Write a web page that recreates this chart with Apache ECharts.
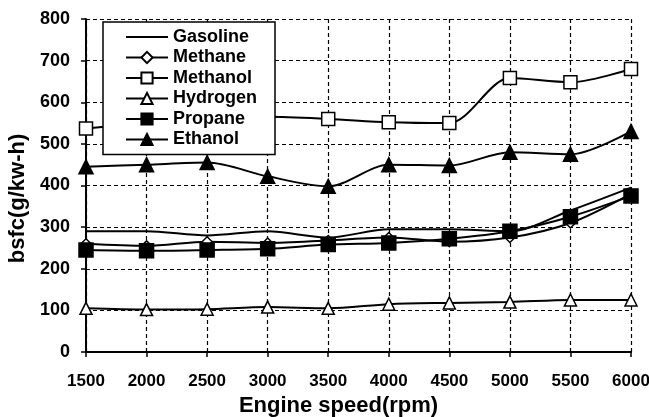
<!DOCTYPE html>
<html><head><meta charset="utf-8">
<script src="https://cdn.jsdelivr.net/npm/echarts@6/dist/echarts.min.js"></script>
<style>html,body{margin:0;padding:0;background:#fff}#c{width:649px;height:417px}</style>
</head><body><div id="c"></div>
<script>
const speeds = [1500, 2000, 2500, 3000, 3500, 4000, 4500, 5000, 5500, 6000];
const gasoline = [290, 290, 280, 290, 275, 295, 295, 290, 340, 395];
const methane  = [260, 255, 265, 262, 268, 275, 265, 275, 310, 380];
const methanol = [537, 550, 560, 565, 560, 552, 550, 658, 648, 680];
const hydrogen = [105, 102, 103, 108, 105, 115, 118, 120, 125, 125];
const propane  = [245, 243, 245, 248, 258, 262, 272, 290, 325, 375];
const ethanol  = [445, 450, 455, 422, 398, 450, 448, 480, 475, 530];
const yTicks = [0, 100, 200, 300, 400, 500, 600, 700, 800];

const FONT = '"Liberation Sans", Arial, sans-serif';
const pts = arr => speeds.map((s, i) => [s, arr[i]]);
function mk(name, data, symbol, size, filled) {
  return {
    name, type: 'line', data: pts(data), smooth: 0.3,
    symbol, symbolSize: size, showSymbol: symbol !== 'none',
    lineStyle: {color: '#000', width: 2},
    itemStyle: {color: filled ? '#000' : '#fff', borderColor: '#000', borderWidth: 1.5},
    emphasis: {disabled: true}, animation: false
  };
}
const chart = echarts.init(document.getElementById('c'));
chart.setOption({
  backgroundColor: '#fff',
  animation: false,
  grid: {left: 86, right: 18, top: 19, bottom: 65, containLabel: false, outerBoundsMode: 'none'},
  legend: {
    left: 103, top: 22, orient: 'vertical',
    backgroundColor: '#fff', borderColor: '#000', borderWidth: 1.5,
    padding: [6, 18, 6, 22], itemWidth: 42, itemHeight: 14, itemGap: 2.5,
    textStyle: {fontFamily: FONT, fontWeight: 'bold', fontSize: 18, color: '#000'},
    data: [
      {name: 'Gasoline', itemStyle: {color: 'rgba(0,0,0,0)', borderColor: 'rgba(0,0,0,0)', borderWidth: 0}},
      'Methane', 'Methanol', 'Hydrogen', 'Propane', 'Ethanol'
    ]
  },
  xAxis: {
    type: 'value', min: 1500, max: 6000, interval: 500,
    name: 'Engine speed(rpm)', nameLocation: 'middle', nameGap: 37,
    nameTextStyle: {fontFamily: FONT, fontWeight: 'bold', fontSize: 22, color: '#000',
      padding: [0, 40, 0, 0]},
    axisLine: {lineStyle: {color: '#000', width: 2}},
    axisTick: {show: true, length: 5, lineStyle: {color: '#000', width: 1.5}},
    axisLabel: {fontFamily: FONT, fontWeight: 'bold', fontSize: 17, color: '#000', margin: 21,
      formatter: v => String(v)},
    splitLine: {show: true, lineStyle: {color: '#000', width: 1.2, type: [4, 3]}}
  },
  yAxis: {
    type: 'value', min: yTicks[0], max: yTicks[yTicks.length - 1], interval: 100,
    name: 'bsfc(g/kw-h)', nameLocation: 'middle', nameGap: 54, nameRotate: 90,
    nameTextStyle: {fontFamily: FONT, fontWeight: 'bold', fontSize: 22, color: '#000',
      padding: [0, 26, 0, 0]},
    axisLine: {show: true, lineStyle: {color: '#000', width: 2}},
    axisTick: {show: true, length: 5, lineStyle: {color: '#000', width: 1.5}},
    axisLabel: {fontFamily: FONT, fontWeight: 'bold', fontSize: 18, color: '#000', margin: 16,
      formatter: v => String(v)},
    splitLine: {show: true, lineStyle: {color: '#000', width: 1.2, type: [4, 3]}}
  },
  series: [
    mk('Gasoline', gasoline, 'none', 0, true),
    mk('Methane', methane, 'diamond', 10, false),
    mk('Methanol', methanol, 'rect', 13, false),
    mk('Hydrogen', hydrogen, 'triangle', 12, false),
    mk('Propane', propane, 'rect', 14, true),
    mk('Ethanol', ethanol, 'triangle', 14, true)
  ]
});
</script></body></html>
